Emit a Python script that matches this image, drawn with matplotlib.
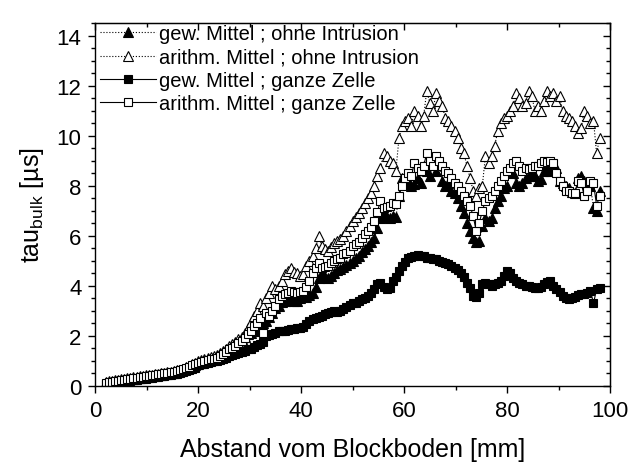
import matplotlib
matplotlib.use("Agg")
import matplotlib.pyplot as plt
import numpy as np
from matplotlib.ticker import MultipleLocator

plt.rcParams['font.family'] = ['Liberation Sans', 'DejaVu Sans']
plt.rcParams['mathtext.fontset'] = 'custom'
plt.rcParams['mathtext.rm'] = 'Liberation Sans'

# measurement positions (mm), 0.6 mm spacing from 2 to 98
x = np.round(np.arange(2.0, 98.01, 0.6), 1)

gew_ohne = [0.10,0.12,0.14,0.15,0.17,0.20,0.22,0.24,0.26,0.28,
            0.30,0.32,0.34,0.36,0.37,0.39,0.41,0.43,0.44,0.46,
            0.48,0.50,0.52,0.55,0.58,0.61,0.65,0.72,0.78,0.82,
            0.88,0.92,0.95,0.98,1.02,1.06,1.12,1.20,1.28,1.38,
            1.50,1.58,1.65,1.75,1.85,1.95,2.05,2.12,2.20,2.32,
            2.45,2.52,2.60,2.75,2.90,3.10,3.20,3.35,3.38,3.42,
            3.45,3.40,3.38,3.50,3.60,3.55,3.62,3.70,3.95,4.30,
            4.45,4.35,4.30,4.40,4.50,4.62,4.68,4.75,4.82,4.90,
            5.00,5.10,5.20,5.35,5.45,5.60,5.75,5.90,6.30,6.70,
            6.85,6.75,6.70,6.80,6.75,7.60,8.30,8.10,8.20,8.00,
            8.05,8.30,8.10,8.80,8.60,8.40,8.95,8.60,8.90,8.20,
            8.00,8.10,7.80,7.70,7.50,7.20,6.90,6.50,6.20,5.90,
            5.75,5.80,6.40,6.70,6.60,6.70,7.10,7.40,7.60,7.90,
            8.00,8.60,8.50,8.10,8.00,8.10,8.30,8.40,8.50,8.40,
            8.20,8.25,8.60,8.70,8.60,8.75,8.70,8.20,8.10,8.00,
            7.90,7.75,7.70,8.30,8.40,8.20,8.10,8.00,7.10,7.00,
            7.80]

arith_ohne = [0.15,0.17,0.19,0.21,0.23,0.25,0.27,0.29,0.31,0.33,
              0.35,0.37,0.39,0.41,0.42,0.44,0.46,0.48,0.50,0.52,
              0.54,0.56,0.58,0.61,0.64,0.68,0.74,0.80,0.87,0.92,
              0.98,1.03,1.08,1.10,1.14,1.17,1.22,1.30,1.38,1.48,
              1.58,1.65,1.75,1.85,1.95,2.10,2.30,2.55,2.80,3.00,
              3.30,3.20,3.50,3.70,4.00,3.85,4.00,4.20,4.45,4.60,
              4.70,4.55,4.50,4.40,4.45,4.80,5.00,5.20,5.50,6.00,
              5.60,5.45,5.40,5.55,5.70,5.80,5.85,6.00,6.20,6.40,
              6.60,6.75,6.90,7.10,7.30,7.50,7.70,8.00,8.40,8.70,
              9.30,9.20,9.00,8.90,8.60,9.90,10.40,10.60,10.70,10.40,
              11.00,10.80,10.40,10.80,11.80,11.30,11.00,11.70,11.40,11.20,
              10.70,10.60,10.40,10.20,9.90,9.50,9.30,8.80,8.30,7.80,
              7.60,7.90,8.00,9.20,8.90,9.20,9.60,10.20,10.50,10.70,
              10.80,11.00,11.20,11.70,11.50,11.20,11.30,11.80,11.60,11.00,
              11.20,11.00,11.40,11.80,11.60,11.70,11.40,11.60,11.00,10.80,
              10.70,10.60,10.40,10.10,10.30,11.00,10.80,10.50,10.60,9.30,
              9.90]

gew_ganz = [0.08,0.09,0.10,0.11,0.13,0.14,0.16,0.17,0.19,0.21,
            0.23,0.25,0.27,0.28,0.30,0.32,0.34,0.35,0.37,0.39,
            0.41,0.43,0.45,0.48,0.50,0.53,0.57,0.62,0.68,0.72,
            0.82,0.86,0.88,0.92,0.95,0.97,1.00,1.03,1.06,1.10,
            1.18,1.22,1.27,1.30,1.33,1.38,1.45,1.48,1.55,1.62,
            1.68,1.75,2.00,2.02,2.08,2.12,2.18,2.20,2.20,2.22,
            2.25,2.28,2.30,2.30,2.35,2.45,2.60,2.65,2.72,2.75,
            2.80,2.85,2.90,2.95,3.00,2.95,3.00,3.08,3.15,3.22,
            3.30,3.32,3.38,3.45,3.52,3.58,3.70,3.85,4.05,4.10,
            3.95,3.85,3.90,4.20,4.35,4.60,4.80,4.95,5.10,5.15,
            5.20,5.22,5.20,5.18,5.12,5.10,5.05,5.05,5.00,4.95,
            4.90,4.85,4.78,4.70,4.62,4.50,4.35,4.10,3.90,3.60,
            3.55,3.70,4.05,4.10,4.05,4.00,4.05,4.10,4.20,4.40,
            4.60,4.50,4.30,4.20,4.10,4.05,4.00,3.98,3.95,3.92,
            3.90,3.95,4.05,4.15,4.20,4.00,3.85,3.75,3.60,3.50,
            3.45,3.50,3.55,3.62,3.65,3.68,3.72,3.80,3.30,3.85,
            3.90]

arith_ganz = [0.12,0.14,0.16,0.18,0.20,0.22,0.24,0.26,0.28,0.30,
              0.32,0.34,0.36,0.38,0.39,0.41,0.43,0.45,0.47,0.49,
              0.51,0.53,0.55,0.58,0.61,0.65,0.70,0.76,0.82,0.86,
              0.92,0.96,1.00,1.02,1.05,1.08,1.12,1.18,1.25,1.33,
              1.45,1.52,1.60,1.70,1.80,1.90,2.05,2.20,2.40,2.50,
              2.70,2.10,2.90,2.80,3.00,3.20,3.45,3.60,3.65,3.70,
              3.80,3.75,3.70,3.75,3.80,3.95,4.20,4.50,4.70,4.90,
              4.70,4.75,4.80,4.90,5.00,5.05,5.10,5.25,5.30,5.40,
              5.60,5.65,5.75,5.90,6.05,6.20,6.35,6.60,6.95,7.40,
              7.10,7.15,7.20,7.30,7.25,7.60,8.00,8.30,8.50,8.40,
              8.90,8.70,8.60,8.80,9.30,9.00,8.80,9.20,9.00,8.80,
              8.60,8.50,8.30,8.10,8.00,7.80,7.60,7.40,7.20,6.80,
              6.20,6.50,7.00,7.40,7.50,7.60,7.80,8.00,8.20,8.40,
              8.60,8.70,8.90,9.00,8.80,8.60,8.70,8.65,8.70,8.80,
              8.80,8.90,9.00,8.95,9.00,8.90,8.50,8.20,8.00,7.80,
              7.80,7.70,7.70,8.20,8.10,7.60,7.80,8.20,8.10,7.20,
              7.60]

labels = ['gew. Mittel ; ohne Intrusion', 'arithm. Mittel ; ohne Intrusion',
          'gew. Mittel ; ganze Zelle', 'arithm. Mittel ; ganze Zelle']

fig = plt.figure(figsize=(6.3, 4.64), dpi=100)
ax = fig.add_axes([0.1514, 0.1666, 0.8168, 0.7814])

ax.plot(x, gew_ohne, ls=':', lw=0.8, color='black', marker='^', ms=7.5,
        mfc='black', mec='black', mew=0.8, label=labels[0])
ax.plot(x, arith_ohne, ls=':', lw=0.8, color='black', marker='^', ms=7.5,
        mfc='white', mec='black', mew=0.8, label=labels[1])
ax.plot(x, gew_ganz, ls='-', lw=0.8, color='black', marker='s', ms=6,
        mfc='black', mec='black', mew=0.8, label=labels[2])
ax.plot(x, arith_ganz, ls='-', lw=0.8, color='black', marker='s', ms=6,
        mfc='white', mec='black', mew=0.8, label=labels[3])

ax.set_xlim(0, 100)
ax.set_ylim(0, 14.5)
ax.xaxis.set_major_locator(MultipleLocator(20))
ax.xaxis.set_minor_locator(MultipleLocator(10))
ax.yaxis.set_major_locator(MultipleLocator(2))
ax.yaxis.set_minor_locator(MultipleLocator(0.5))
ax.tick_params(which='both', direction='out', top=False, right=False,
               labelsize=16, width=1, pad=5)
ax.tick_params(which='major', length=5)
ax.tick_params(which='minor', length=3)
for spine in ax.spines.values():
    spine.set_linewidth(1)

ax2 = ax.secondary_xaxis('top')
ax2.xaxis.set_major_locator(MultipleLocator(20))
ax2.xaxis.set_minor_locator(MultipleLocator(10))
ax2.tick_params(which='both', direction='in', labeltop=False, width=1)
ax2.tick_params(which='major', length=5)
ax2.tick_params(which='minor', length=3)
ax3 = ax.secondary_yaxis('right')
ax3.yaxis.set_major_locator(MultipleLocator(2))
ax3.yaxis.set_minor_locator(MultipleLocator(0.5))
ax3.tick_params(which='both', direction='in', labelright=False, width=1)
ax3.tick_params(which='major', length=5)
ax3.tick_params(which='minor', length=3)

ax.set_xlabel('Abstand vom Blockboden [mm]', fontsize=18, labelpad=12)
ax.set_ylabel(r'tau$_{\mathregular{bulk}}$ [µs]', fontsize=18, labelpad=8)

ax.legend(loc='upper left', frameon=False, fontsize=14.5, handlelength=2.75,
          handletextpad=0.15, labelspacing=0.22, borderaxespad=0.0,
          borderpad=0.25, bbox_to_anchor=(0.0, 1.011))

fig.savefig('out.png', dpi=100)
